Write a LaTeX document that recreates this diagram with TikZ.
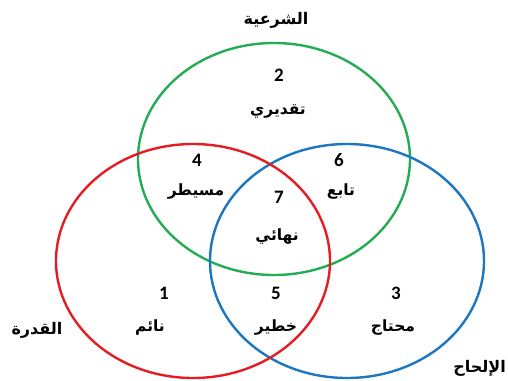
\documentclass[tikz,border=0pt]{standalone}
\usepackage{fontspec}
\setmainfont{Carlito}
\newfontfamily\arabicfont[Script=Arabic]{DejaVu Sans}
\TeXXeTstate=1
\definecolor{vgreen}{RGB}{36,172,84}
\definecolor{vred}{RGB}{226,30,36}
\definecolor{vblue}{RGB}{28,118,192}
\newcommand{\artxt}[1]{{\arabicfont\bfseries\beginR #1\endR}}
\tikzset{
  num/.style={font=\fontsize{19}{22}\selectfont\bfseries},
  word/.style={font=\fontsize{15.5}{18}\selectfont},
  setname/.style={font=\fontsize{16}{18}\selectfont}
}

\begin{document}
\begin{tikzpicture}[x=1pt,y=-1pt,line width=2.4pt]
\useasboundingbox (0,0) rectangle (508,380);

% the three sets
\draw[vgreen] (274,159) ellipse[x radius=136pt, y radius=116pt];
\draw[vblue] (347,261) ellipse[x radius=137pt, y radius=117pt];
\draw[vred] (193,261) ellipse[x radius=137pt, y radius=117pt];

% set names
\node[setname] (shareia) at (276,20) {\artxt{الشرعية}};
\node[setname] (qudra) at (37,330) {\artxt{القدرة}};
\node[setname,anchor=east,inner xsep=1pt] (ilhah) at (508,368) {\artxt{الإلحاح}};

% regions
\node[num] (n2) at (279,75) {2};
\node[word] (w2) at (278,111) {\artxt{تقديري}};

\node[num] (n4) at (197,160) {4};
\node[word] (w4) at (196,192) {\artxt{مسيطر}};

\node[num] (n7) at (279,197) {7};
\node[word] (w7) at (277,237) {\artxt{نهائي}};

\node[num] (n6) at (339,160) {6};
\node[word] (w6) at (341,192) {\artxt{تابع}};

\node[num] (n1) at (164,293) {1};
\node[word] (w1) at (150,327) {\artxt{نائم}};

\node[num] (n5) at (276,293) {5};
\node[word] (w5) at (276,327) {\artxt{خطير}};

\node[num] (n3) at (396,293) {3};
\node[word] (w3) at (393,327) {\artxt{محتاج}};
\end{tikzpicture}
\end{document}
